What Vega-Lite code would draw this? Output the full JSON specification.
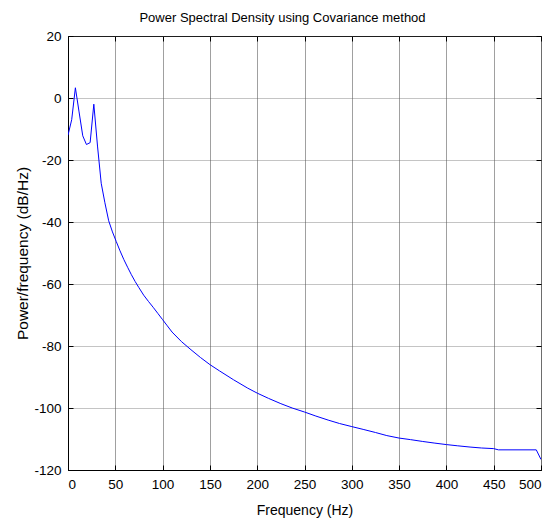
{
  "$schema": "https://vega.github.io/schema/vega-lite/v6.json",
  "width": 473,
  "height": 434,
  "autosize": {"type": "none"},
  "padding": {"left": 68, "top": 36, "right": 18, "bottom": 48},
  "background": "white",
  "title": {"text": "Power Spectral Density using Covariance method", "anchor": "middle", "dx": -22, "offset": 4, "fontSize": 13, "font": "Liberation Sans", "fontWeight": "normal", "color": "black"},
  "config": {
    "view": {"stroke": "black", "strokeWidth": 1},
    "axis": {"labelFont": "Liberation Sans", "titleFont": "Liberation Sans", "labelFontSize": 13.5, "titleFontSize": 14, "titleFontWeight": "normal", "labelColor": "black", "titleColor": "black", "domainColor": "black", "tickColor": "black", "tickSize": -5, "gridColor": "#555", "gridOpacity": 0.7}
  },
  "data": {"values": [
    {"f": 0, "p": -12}, {"f": 3.9, "p": -7}, {"f": 7.8, "p": 3.3}, {"f": 11.7, "p": -4.5},
    {"f": 15.6, "p": -12.2}, {"f": 19.5, "p": -15}, {"f": 23.4, "p": -14.4}, {"f": 27.3, "p": -2},
    {"f": 31.2, "p": -15.5}, {"f": 35.1, "p": -27.5}, {"f": 39, "p": -33.8}, {"f": 43, "p": -39.6},
    {"f": 47, "p": -43.2}, {"f": 51, "p": -46.3}, {"f": 55, "p": -49.3}, {"f": 59, "p": -52.1},
    {"f": 63, "p": -54.6}, {"f": 67, "p": -57}, {"f": 71, "p": -59.2}, {"f": 75, "p": -61.2},
    {"f": 80, "p": -63.6}, {"f": 85, "p": -65.6}, {"f": 90, "p": -67.5}, {"f": 95, "p": -69.5},
    {"f": 100, "p": -71.5}, {"f": 105, "p": -73.5}, {"f": 110, "p": -75.5}, {"f": 120, "p": -78.6},
    {"f": 130, "p": -81.2}, {"f": 140, "p": -83.7}, {"f": 150, "p": -86}, {"f": 160, "p": -88},
    {"f": 175, "p": -90.9}, {"f": 190, "p": -93.6}, {"f": 200, "p": -95.2}, {"f": 212, "p": -96.9},
    {"f": 225, "p": -98.6}, {"f": 237, "p": -100}, {"f": 250, "p": -101.3}, {"f": 262, "p": -102.6},
    {"f": 275, "p": -103.9}, {"f": 287, "p": -105}, {"f": 300, "p": -106}, {"f": 312, "p": -106.9},
    {"f": 325, "p": -107.9}, {"f": 337, "p": -108.9}, {"f": 350, "p": -109.7}, {"f": 362, "p": -110.2},
    {"f": 375, "p": -110.8}, {"f": 387, "p": -111.3}, {"f": 400, "p": -111.8}, {"f": 412, "p": -112.2},
    {"f": 425, "p": -112.6}, {"f": 437, "p": -112.9}, {"f": 450, "p": -113.1}, {"f": 455, "p": -113.5},
    {"f": 495, "p": -113.5}, {"f": 500, "p": -116.6}
  ]},
  "layer": [
    {
      "mark": {"type": "line", "color": "#0000ff", "strokeWidth": 1, "clip": true},
      "encoding": {
        "x": {"field": "f", "type": "quantitative", "scale": {"domain": [0, 500], "nice": false}, "title": "Frequency (Hz)",
          "axis": {"values": [0,50,100,150,200,250,300,350,400,450,500], "labelPadding": 12, "titleBaseline": "middle", "titleY": 40, "gridColor": "#888", "gridOpacity": 0.8}},
        "y": {"field": "p", "type": "quantitative", "scale": {"domain": [-120, 20], "nice": false, "zero": false}, "title": "Power/frequency  (dB/Hz)",
          "axis": {"values": [-120,-100,-80,-60,-40,-20,0,20], "labelExpr": "'' + datum.value", "labelPadding": 12, "titleFontSize": 15.5, "titleBaseline": "middle", "titleX": -46, "titleY": 217, "gridDash": [1, 1]}}
      }
    },
    {
      "mark": {"type": "point", "opacity": 0},
      "encoding": {
        "x": {"field": "f", "type": "quantitative", "axis": {"orient": "top", "labels": false, "title": null, "grid": false, "domain": false, "values": [0,50,100,150,200,250,300,350,400,450,500]}},
        "y": {"field": "p", "type": "quantitative", "axis": {"orient": "right", "labels": false, "title": null, "grid": false, "domain": false, "values": [-120,-100,-80,-60,-40,-20,0,20]}}
      }
    }
  ],
  "resolve": {"axis": {"x": "independent", "y": "independent"}}
}
